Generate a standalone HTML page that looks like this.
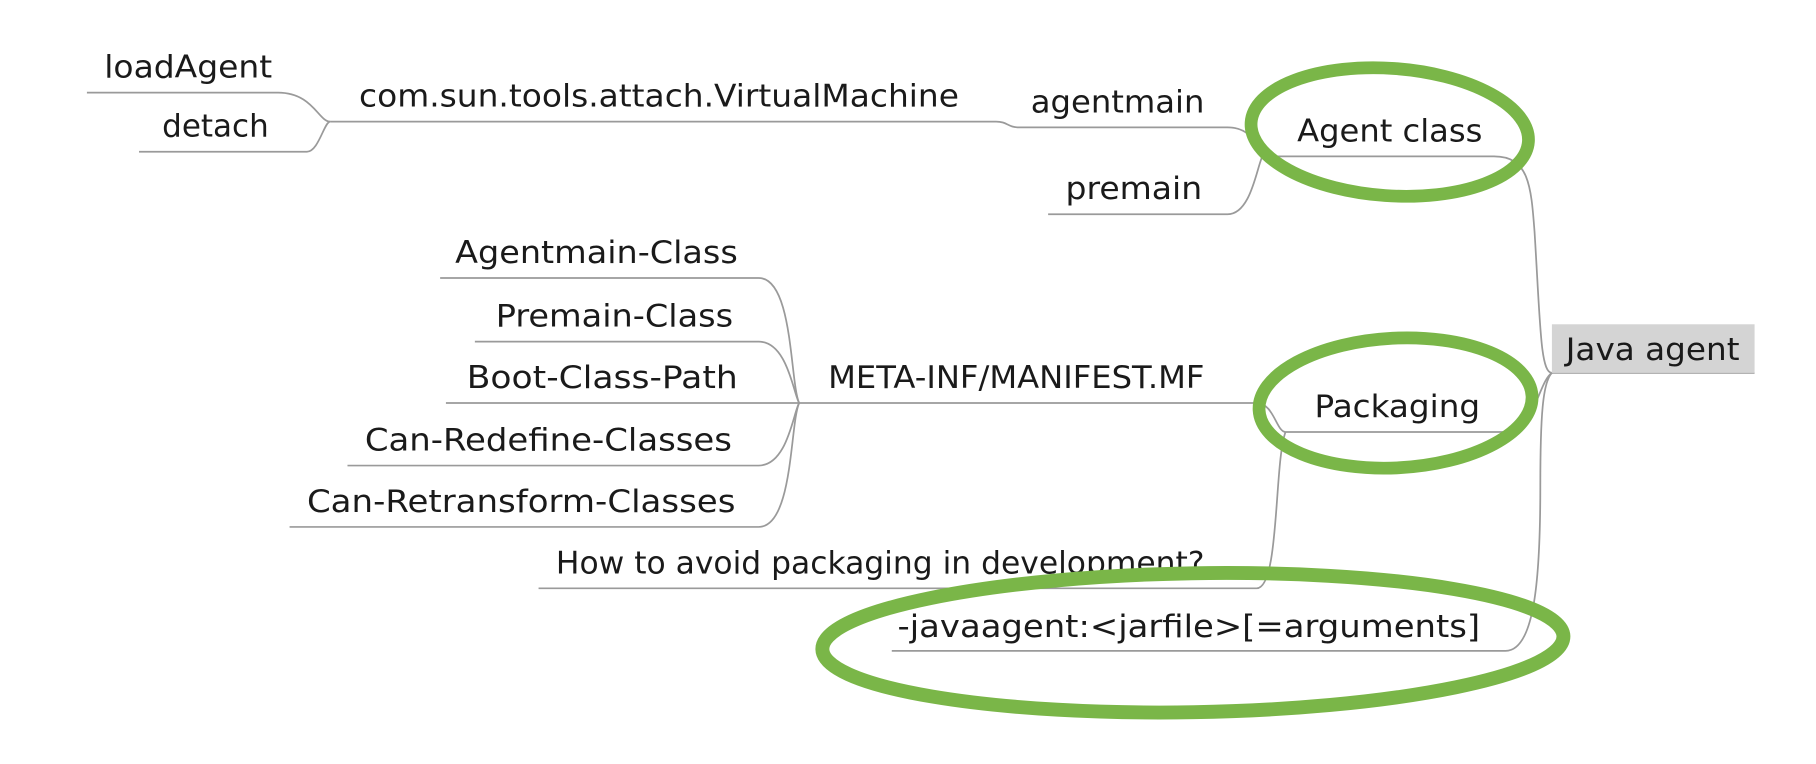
<!DOCTYPE html>
<html><head><meta charset="utf-8"><style>html,body{margin:0;padding:0;background:#fff}svg{display:block}</style></head>
<body>
<svg width="1816" height="764" viewBox="0 0 1568 659.7" xmlns="http://www.w3.org/2000/svg">
<g fill="none" stroke="#9a9a9a" stroke-width="1.5">
<path d="M75 80 H240 C270 80 275 105 285 105"/>
<path d="M120 131 H265 C275 131 280 105 285 105"/>
<path d="M285 105 H860 C870 105 870 110 880 110 H1060 C1080 110 1085 125 1090 135"/>
<path d="M905 185 H1060 C1080 185 1085 145 1090 135"/>
<path d="M1090 135 H1290 C1320 135 1322 160 1325 200 C1330 280 1330 322 1340 322"/>
<path d="M1340 322 H1515"/>
<path d="M1110 373 H1300 C1325 373 1328 330 1340 322"/>
<path d="M690 348 H1085 C1100 348 1102 373 1110 373"/>
<path d="M380 240 H655 C685 240 682 330 690 348"/>
<path d="M410 295 H655 C680 295 685 340 690 348"/>
<path d="M385 348 H690"/>
<path d="M300 402 H655 C680 402 685 356 690 348"/>
<path d="M250 455 H655 C685 455 682 366 690 348"/>
<path d="M465 508 H1085 C1105 508 1100 400 1110 373"/>
<path d="M770 562 H1300 C1325 562 1330 500 1330 420 C1330 360 1332 330 1340 322"/>
</g>
<rect x="1340" y="280" width="175" height="42" fill="#d4d4d4"/>
<g font-family="'DejaVu Sans','Liberation Sans',sans-serif" font-size="27" fill="#1a1a1a" lengthAdjust="spacingAndGlyphs">
<text x="90" y="67" textLength="145" lengthAdjust="spacingAndGlyphs">loadAgent</text>
<text x="140" y="118" textLength="92" lengthAdjust="spacingAndGlyphs">detach</text>
<text x="310" y="92" textLength="518" lengthAdjust="spacingAndGlyphs">com.sun.tools.attach.VirtualMachine</text>
<text x="890" y="97" textLength="150" lengthAdjust="spacingAndGlyphs">agentmain</text>
<text x="920" y="172" textLength="118" lengthAdjust="spacingAndGlyphs">premain</text>
<text x="1120" y="122" textLength="160" lengthAdjust="spacingAndGlyphs">Agent class</text>
<text x="1352" y="311" textLength="150" lengthAdjust="spacingAndGlyphs">Java agent</text>
<text x="1135" y="360" textLength="143" lengthAdjust="spacingAndGlyphs">Packaging</text>
<text x="715" y="335" textLength="325" lengthAdjust="spacingAndGlyphs">META-INF/MANIFEST.MF</text>
<text x="393" y="227" textLength="244" lengthAdjust="spacingAndGlyphs">Agentmain-Class</text>
<text x="428" y="282" textLength="205" lengthAdjust="spacingAndGlyphs">Premain-Class</text>
<text x="403" y="335" textLength="234" lengthAdjust="spacingAndGlyphs">Boot-Class-Path</text>
<text x="315" y="389" textLength="317" lengthAdjust="spacingAndGlyphs">Can-Redefine-Classes</text>
<text x="265" y="442" textLength="370" lengthAdjust="spacingAndGlyphs">Can-Retransform-Classes</text>
<text x="480" y="495" textLength="560" lengthAdjust="spacingAndGlyphs">How to avoid packaging in development?</text>
<text x="775" y="550" textLength="503" lengthAdjust="spacingAndGlyphs">-javaagent:&lt;jarfile&gt;[=arguments]</text>
</g>
<g fill="none" stroke="#7ab648" stroke-linecap="round">
<ellipse cx="1200" cy="114" rx="120" ry="55" stroke-width="11" transform="rotate(4 1200 114)"/>
<ellipse cx="1205" cy="348" rx="118" ry="56" stroke-width="11" transform="rotate(-3 1205 348)"/>
<ellipse cx="1030" cy="555" rx="320" ry="60" stroke-width="12" transform="rotate(-1 1030 555)"/>
</g>
</svg>
</body></html>
